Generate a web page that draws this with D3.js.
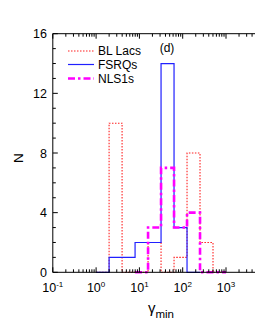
<!DOCTYPE html>
<html>
<head>
<meta charset="utf-8">
<script src="https://cdn.jsdelivr.net/npm/d3@7"></script>
<style>
  html, body { margin: 0; padding: 0; background: #fff; }
  svg { display: block; font-family: "Liberation Sans", Arial, sans-serif; }
</style>
</head>
<body>
<svg id="chart" width="255" height="330"></svg>
<script>
// ---- data ----
const binEdgesLog = [0.0, 0.3, 0.6, 0.9, 1.2, 1.5, 1.8, 2.1, 2.4, 2.7, 3.0]; // log10(gamma_min)
const blLacs = [0, 10, 0, 0, 2, 0, 1, 8, 2, 0];          // bins starting at edge 0.0
const fsrqs  = [0, 1, 1, 2, 2, 14, 3, 0];                 // bins starting at edge 0.0
const nls1s  = [0, 3, 7, 3, 4, 0, 0];                     // bins starting at edge 0.9
const nls1Start = 3;                                       // index of first NLS1 edge
const seriesNames = ["BL Lacs", "FSRQs", "NLS1s"];
const yTicks = [0, 4, 8, 12, 16];
const xTickExps = [-1, 0, 1, 2, 3, 4];
const xLabelExps = [-1, 0, 1, 2, 3];

// ---- layout ----
const svg = d3.select("#chart");
const x = d3.scaleLog().domain([0.1, 1e4]).range([52.8, 52.8 + 5 * 43.3]);
const y = d3.scaleLinear().domain([0, 16]).range([272.3, 33.7]);
const x0 = x.range()[0], x1 = x.range()[1], yb = y.range()[0], yt = y.range()[1];

const styles = [
  { color: "#ff2020", width: 1.1, dash: "1.5,1.5" },
  { color: "#2020ff", width: 1.2, dash: null },
  { color: "#ff00ff", width: 2.6, dash: "7,3,2.5,3" }
];

function stepPoints(vals, startIdx) {
  const pts = [];
  const e = i => Math.pow(10, binEdgesLog[startIdx + i]);
  pts.push([e(0), 0]);
  vals.forEach((v, i) => { pts.push([e(i), v]); pts.push([e(i + 1), v]); });
  pts.push([e(vals.length), 0]);
  return pts;
}
const line = d3.line().x(d => x(d[0])).y(d => y(d[1]));

const data = [stepPoints(blLacs, 0), stepPoints(fsrqs, 0), stepPoints(nls1s, nls1Start)];
data.forEach((pts, i) => {
  const s = styles[i];
  svg.append("path").attr("d", line(pts)).attr("fill", "none")
    .attr("stroke", s.color).attr("stroke-width", s.width)
    .attr("stroke-dasharray", s.dash).attr("stroke-linejoin", "miter");
});

// ---- axes frame ----
const frame = svg.append("g").attr("stroke", "#000").attr("stroke-width", 1);
frame.append("line").attr("x1", x0).attr("x2", x1).attr("y1", yb).attr("y2", yb);
frame.append("line").attr("x1", x0).attr("x2", x1).attr("y1", yt).attr("y2", yt);
frame.append("line").attr("x1", x0).attr("x2", x0).attr("y1", yt).attr("y2", yb);
frame.append("line").attr("x1", x1).attr("x2", x1).attr("y1", yt).attr("y2", yb);

// x ticks (inward, bottom and top)
const xMajor = xTickExps.map(e => Math.pow(10, e));
const xMinor = [];
xTickExps.slice(0, -1).forEach(e => { for (let k = 2; k <= 9; k++) xMinor.push(k * Math.pow(10, e)); });
xMajor.forEach(v => {
  frame.append("line").attr("x1", x(v)).attr("x2", x(v)).attr("y1", yb).attr("y2", yb - 5);
  frame.append("line").attr("x1", x(v)).attr("x2", x(v)).attr("y1", yt).attr("y2", yt + 5);
});
xMinor.forEach(v => {
  frame.append("line").attr("x1", x(v)).attr("x2", x(v)).attr("y1", yb).attr("y2", yb - 3);
  frame.append("line").attr("x1", x(v)).attr("x2", x(v)).attr("y1", yt).attr("y2", yt + 3);
});
// y ticks (inward)
d3.range(0, 17).forEach(v => {
  const len = v % 4 === 0 ? 5 : 3;
  frame.append("line").attr("x1", x0).attr("x2", x0 + len).attr("y1", y(v)).attr("y2", y(v));
  frame.append("line").attr("x1", x1).attr("x2", x1 - len).attr("y1", y(v)).attr("y2", y(v));
});

// tick labels
yTicks.forEach(v => {
  svg.append("text").attr("x", 47).attr("y", y(v)).attr("dy", "0.36em")
    .attr("text-anchor", "end").attr("font-size", 12.5).text(v);
});
xLabelExps.forEach(e => {
  const t = svg.append("text").attr("x", x(Math.pow(10, e))).attr("y", 292)
    .attr("text-anchor", "middle").attr("font-size", 12.5);
  t.append("tspan").text("10");
  t.append("tspan").attr("dy", -5).attr("font-size", 8).text(String(e));
});

// axis titles
svg.append("text").attr("transform", "translate(23,158) rotate(-90)")
  .attr("text-anchor", "middle").attr("font-size", 13.5).text("N");
const xt = svg.append("text").attr("x", 161).attr("y", 313).attr("text-anchor", "middle").attr("font-size", 15);
xt.append("tspan").text("γ");
xt.append("tspan").attr("dy", 5).attr("font-size", 11.5).text("min");

// panel label
svg.append("text").attr("x", 167).attr("y", 52).attr("text-anchor", "middle").attr("font-size", 12).text("(d)");

// legend
const legY = [51, 64.5, 78.5];
seriesNames.forEach((name, i) => {
  const s = styles[i];
  svg.append("line").attr("x1", 68).attr("x2", 94).attr("y1", legY[i]).attr("y2", legY[i])
    .attr("stroke", s.color).attr("stroke-width", s.width).attr("stroke-dasharray", s.dash);
  svg.append("text").attr("x", 98).attr("y", legY[i]).attr("dy", "0.36em")
    .attr("font-size", 12).text(name);
});
</script>
</body>
</html>
